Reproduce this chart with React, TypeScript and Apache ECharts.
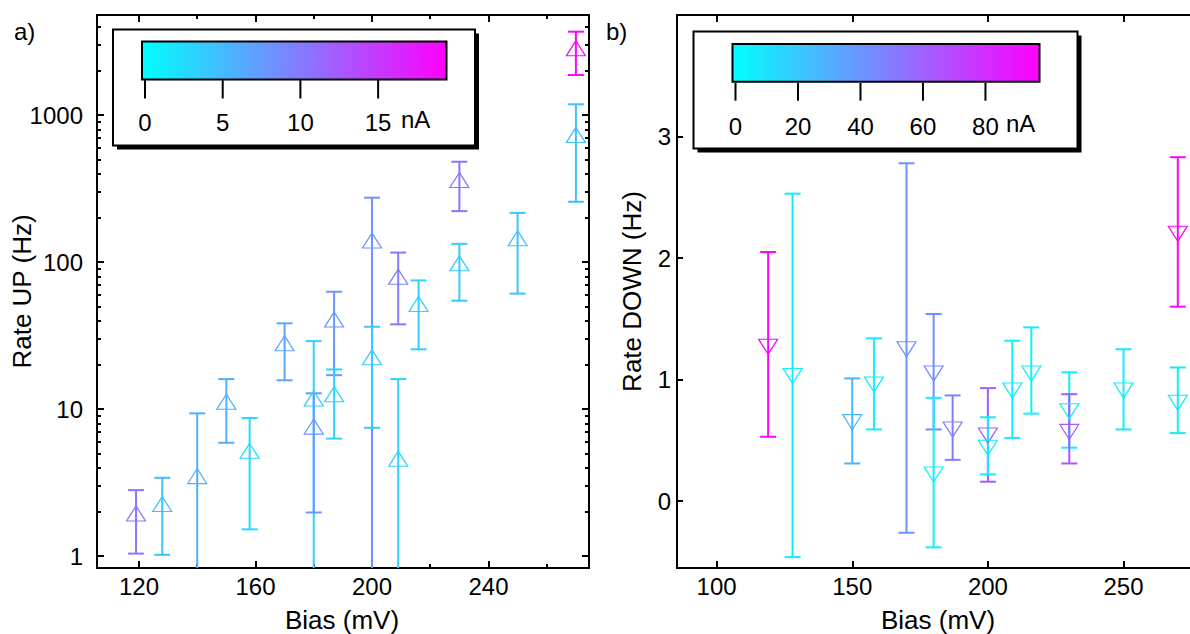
import React, { useEffect, useRef } from "react";
import * as echarts from "echarts";

const FONT = '"Liberation Sans", Arial, Helvetica, sans-serif';

// ---------- Panel a) : Rate UP (log axis) ----------
const upBias = [119, 128, 140, 150, 158, 170, 180, 180, 187, 187, 200, 200, 209, 209, 216, 230, 230, 250, 270, 270];
const upRate = [1.95, 2.26, 3.5, 11.2, 5.2, 28, 11.8, 7.6, 40.7, 12.6, 140, 22.5, 79.5, 4.6, 51.8, 361, 98, 145, 2843, 731];
const upHigh = [2.81, 3.41, 9.35, 16, 8.7, 38.3, 29, 12.8, 62.8, 18.6, 274, 36.3, 116, 16, 75, 481, 133, 216, 3690, 1183];
const upLow = [1.04, 1.02, 0.5, 5.9, 1.52, 15.7, 0.5, 1.98, 17, 6.3, 0.5, 7.46, 37.7, 0.5, 25.5, 222, 54.6, 61, 1871, 257];
const upCurrent = [10.5, 4.9, 6, 6, 3, 6.8, 3.5, 7.8, 8, 3.5, 8.2, 4, 10, 3.5, 3.5, 10.5, 4, 4.5, 19, 5];

const upXMajor = [120, 160, 200, 240];
const upXMinor = [140, 180, 220, 260];
const upYMajor = [1, 10, 100, 1000];
const upYMinor = [2, 3, 4, 5, 6, 7, 8, 9, 20, 30, 40, 50, 60, 70, 80, 90, 200, 300, 400, 500, 600, 700, 800, 900, 2000, 3000, 4000];
const upXRange = [105.6, 274.5];
const upYRange = [0.83, 4790];

const upCbTicks = [0, 5, 10, 15];
const upCbMax = 19.4;

// ---------- Panel b) : Rate DOWN (linear axis) ----------
const downBias = [119, 128, 150, 158, 170, 180, 180, 187, 200, 200, 209, 216, 230, 230, 250, 270, 270];
const downRate = [1.27, 1.03, 0.65, 0.96, 1.25, 1.05, 0.22, 0.59, 0.54, 0.44, 0.91, 1.05, 0.74, 0.57, 0.91, 0.81, 2.2];
const downHigh = [2.05, 2.53, 1.01, 1.34, 2.78, 1.54, 0.85, 0.87, 0.93, 0.69, 1.32, 1.43, 1.06, 0.88, 1.25, 1.1, 2.83];
const downLow = [0.53, -0.46, 0.31, 0.59, -0.26, 0.59, -0.38, 0.34, 0.16, 0.22, 0.52, 0.72, 0.44, 0.31, 0.59, 0.56, 1.6];
const downCurrent = [95, 6, 29, 6, 41, 44, 6, 49, 61, 6, 6, 6, 6, 64, 6, 8, 95];

const downXMajor = [100, 150, 200, 250];
const downYMajor = [0, 1, 2, 3];
const downXRange = [85.4, 274.5];
const downYRange = [-0.55, 4.0];

const downCbTicks = [0, 20, 40, 60, 80];
const downCbMax = 97.3;

// ---------- helpers ----------
function currentColor(v: number, max: number) {
  const t = Math.min(1, Math.max(0, v / max));
  return `rgb(${Math.round(255 * t)},${Math.round(255 * (1 - t))},255)`;
}

const upColors = upCurrent.map((v) => currentColor(v, upCbMax));
const downColors = downCurrent.map((v) => currentColor(v, downCbMax));

const lineBlack = { color: "#000", width: 2 };

function valueAxis(o: any) {
  const labels = o.labels;
  return {
    type: "value",
    gridIndex: o.grid,
    position: o.pos,
    min: o.min,
    max: o.max,
    axisLine: { show: o.line !== false, onZero: false, lineStyle: lineBlack },
    axisTick: {
      show: true,
      inside: true,
      length: o.len,
      lineStyle: { color: "#000", width: o.tickW || 2 },
      customValues: o.ticks,
    },
    axisLabel: labels
      ? {
          show: true,
          customValues: o.ticks,
          fontSize: 24,
          color: "#000",
          fontFamily: FONT,
          margin: o.margin,
          formatter: o.formatter,
        }
      : { show: false },
    splitLine: { show: false },
  };
}

function errorSeries(xi: number, yi: number, bias: number[], low: number[], high: number[], colors: string[]) {
  return {
    type: "custom",
    xAxisIndex: xi,
    yAxisIndex: yi,
    silent: true,
    z: 2,
    data: bias.map((b, i) => [b, low[i], high[i], i]),
    encode: { x: 0, y: [1, 2] },
    renderItem: (params: any, api: any) => {
      const cs = params.coordSys;
      const top = cs.y;
      const bottom = cs.y + cs.height;
      const x = api.value(0);
      const lo = api.coord([x, api.value(1)]);
      const hi = api.coord([x, api.value(2)]);
      const color = colors[api.value(3)];
      const style = { stroke: color, lineWidth: 2, fill: "none" };
      const hw = 8;
      const loY = Math.min(lo[1], bottom);
      const hiY = Math.max(hi[1], top);
      const children: any[] = [
        { type: "line", shape: { x1: lo[0], y1: loY, x2: hi[0], y2: hiY }, style },
      ];
      if (lo[1] <= bottom) {
        children.push({ type: "line", shape: { x1: lo[0] - hw, y1: lo[1], x2: lo[0] + hw, y2: lo[1] }, style });
      }
      if (hi[1] >= top) {
        children.push({ type: "line", shape: { x1: hi[0] - hw, y1: hi[1], x2: hi[0] + hw, y2: hi[1] }, style });
      }
      return { type: "group", children };
    },
  };
}

function triSeries(xi: number, yi: number, bias: number[], rate: number[], colors: string[], rotate: number) {
  return {
    type: "scatter",
    xAxisIndex: xi,
    yAxisIndex: yi,
    symbol: "triangle",
    symbolSize: [19, 15],
    symbolRotate: rotate,
    silent: true,
    z: 3,
    data: bias.map((b, i) => ({ value: [b, rate[i]], itemStyle: { borderColor: colors[i] } })),
    itemStyle: { color: "rgba(255,255,255,0)", borderWidth: 1.2, opacity: 1 },
  };
}

function txt(text: string, x: number, y: number, size: number, align: string, rotation = 0) {
  return {
    type: "text",
    x,
    y,
    rotation,
    silent: true,
    style: {
      text,
      fill: "#000",
      font: `${size}px ${FONT}`,
      fontSize: size,
      fontFamily: FONT,
      align,
      textAlign: align,
      verticalAlign: "middle",
      textVerticalAlign: "middle",
    },
  };
}

function colorbar(o: any) {
  const els: any[] = [];
  els.push({
    type: "rect",
    silent: true,
    shape: { x: o.boxX + 4, y: o.boxY + 4, width: o.boxW, height: o.boxH },
    style: { fill: "#000" },
  });
  els.push({
    type: "rect",
    silent: true,
    shape: { x: o.boxX, y: o.boxY, width: o.boxW, height: o.boxH },
    style: { fill: "#fff", stroke: "#000", lineWidth: 2 },
  });
  els.push({
    type: "rect",
    silent: true,
    shape: { x: o.barX, y: o.barY, width: o.barW, height: o.barH },
    style: {
      fill: {
        type: "linear",
        x: 0,
        y: 0,
        x2: 1,
        y2: 0,
        colorStops: [
          { offset: 0, color: "#00ffff" },
          { offset: 1, color: "#ff00ff" },
        ],
      },
      stroke: "#000",
      lineWidth: 2,
    },
  });
  const pxPerUnit = (o.barX + o.barW - o.zeroX) / o.max;
  o.ticks.forEach((v: number) => {
    const x = o.zeroX + v * pxPerUnit;
    els.push({
      type: "line",
      silent: true,
      shape: { x1: x, y1: o.tickY0, x2: x, y2: o.tickY1 },
      style: { stroke: "#000", lineWidth: 2 },
    });
    els.push(txt(String(v), x, o.labelY, 24, "center"));
  });
  els.push(txt("nA", o.unitX, o.unitY, 24, "left"));
  return els;
}

function buildOption() {
  const upLogMin = Math.log10(upYRange[0]);
  const upLogMax = Math.log10(upYRange[1]);
  const logFmt = (v: number) => String(Math.round(Math.pow(10, v)));

  const xAxis = [
    valueAxis({ grid: 0, pos: "bottom", min: upXRange[0], max: upXRange[1], len: 7, ticks: upXMajor, labels: true, margin: 6 }),
    valueAxis({ grid: 0, pos: "bottom", min: upXRange[0], max: upXRange[1], len: 4, ticks: upXMinor, line: false }),
    valueAxis({ grid: 0, pos: "top", min: upXRange[0], max: upXRange[1], len: 7, ticks: upXMajor }),
    valueAxis({ grid: 0, pos: "top", min: upXRange[0], max: upXRange[1], len: 4, ticks: upXMinor, line: false }),
    valueAxis({ grid: 1, pos: "bottom", min: downXRange[0], max: downXRange[1], len: 7, ticks: downXMajor, labels: true, margin: 6 }),
    valueAxis({ grid: 1, pos: "top", min: downXRange[0], max: downXRange[1], len: 7, ticks: downXMajor }),
  ];

  const yAxis = [
    {
      type: "log",
      logBase: 10,
      gridIndex: 0,
      position: "left",
      min: upYRange[0],
      max: upYRange[1],
      axisLine: { show: true, onZero: false, lineStyle: lineBlack },
      axisTick: { show: false },
      axisLabel: { show: false },
      splitLine: { show: false },
      minorTick: { show: false },
    },
    valueAxis({ grid: 0, pos: "left", min: upLogMin, max: upLogMax, len: 7, ticks: upYMajor.map(Math.log10), labels: true, margin: 14, formatter: logFmt, line: false }),
    valueAxis({ grid: 0, pos: "left", min: upLogMin, max: upLogMax, len: 4, ticks: upYMinor.map(Math.log10), line: false }),
    valueAxis({ grid: 0, pos: "right", min: upLogMin, max: upLogMax, len: 7, ticks: upYMajor.map(Math.log10) }),
    valueAxis({ grid: 0, pos: "right", min: upLogMin, max: upLogMax, len: 4, ticks: upYMinor.map(Math.log10), line: false }),
    valueAxis({ grid: 1, pos: "left", min: downYRange[0], max: downYRange[1], len: 6, ticks: downYMajor, labels: true, margin: 6 }),
  ];

  const graphic: any[] = [
    txt("a)", 14, 31, 24, "left"),
    txt("b)", 606, 31, 24, "left"),
    txt("Rate UP (Hz)", 22, 291.5, 26, "center", Math.PI / 2),
    txt("Rate DOWN (Hz)", 631.5, 291.5, 26, "center", Math.PI / 2),
    txt("Bias (mV)", 342, 620, 26, "center"),
    txt("Bias (mV)", 938, 620, 26, "center"),
    ...colorbar({
      boxX: 113, boxY: 29.5, boxW: 362, boxH: 116,
      barX: 142, barY: 41.5, barW: 304.5, barH: 38,
      zeroX: 145, max: upCbMax, ticks: upCbTicks,
      tickY0: 80, tickY1: 98.5, labelY: 122.5, unitX: 401, unitY: 119.5,
    }),
    ...colorbar({
      boxX: 693.5, boxY: 31.5, boxW: 384, boxH: 117,
      barX: 732.5, barY: 44, barW: 307, barH: 37.7,
      zeroX: 735.5, max: downCbMax, ticks: downCbTicks,
      tickY0: 83, tickY1: 100.7, labelY: 126, unitX: 1006, unitY: 123.5,
    }),
  ];

  return {
    animation: false,
    backgroundColor: "#fff",
    textStyle: { fontFamily: FONT },
    grid: [
      { left: 97, top: 15, width: 492, height: 553 },
      { left: 677, top: 15, width: 521, height: 553 },
    ],
    xAxis,
    yAxis,
    series: [
      errorSeries(0, 0, upBias, upLow, upHigh, upColors),
      triSeries(0, 0, upBias, upRate, upColors, 0),
      errorSeries(4, 5, downBias, downLow, downHigh, downColors),
      triSeries(4, 5, downBias, downRate, downColors, 180),
    ],
    graphic,
  };
}

export default function App() {
  const ref = useRef<HTMLDivElement>(null);
  useEffect(() => {
    const chart = echarts.init(ref.current as HTMLDivElement, null, { renderer: "svg" });
    chart.setOption(buildOption() as any);
    return () => chart.dispose();
  }, []);
  return (
    <div
      ref={ref}
      style={{ position: "absolute", left: 0, top: 0, width: 1190, height: 634, background: "#fff" }}
    />
  );
}
